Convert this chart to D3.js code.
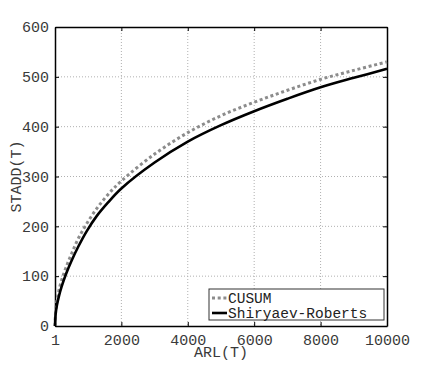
<!DOCTYPE html>
<html>
<head>
<meta charset="utf-8">
<script src="https://cdnjs.cloudflare.com/ajax/libs/d3/7.8.5/d3.min.js"></script>
<style>
  body { margin: 0; background: #fff; }
  text { font-family: "Liberation Mono", "Courier New", monospace; }
</style>
</head>
<body>
<svg width="427" height="365"></svg>
<script>
// values
var arl = [1, 20, 60, 120, 200, 330, 500, 700, 953, 1250, 1600, 2000, 3000, 4000, 5000, 6000, 7000, 8000, 9000, 10000]
var cusum = [0, 30, 52, 72, 92, 117, 145, 175, 205, 235, 264, 291, 345, 388, 422, 449, 473, 495, 513, 530]
var shiryaev = [0, 24, 42, 60, 79, 104, 131, 159, 190, 220, 248, 276, 328, 370, 403, 431, 456, 479, 498, 516]
var xTicks = [1, 2000, 4000, 6000, 8000, 10000]
var yTicks = [0, 100, 200, 300, 400, 500, 600]
var seriesNames = ["CUSUM", "Shiryaev-Roberts"]

var svg = d3.select("svg"),
  plotLeft = 55, plotRight = 387, plotTop = 27, plotBottom = 326

var xScale = d3.scaleLinear().domain([1, 10000]).range([plotLeft, plotRight])
var yScale = d3.scaleLinear().domain([0, 600]).range([plotBottom, plotTop])

var g = svg.append("g")

// grid lines (dotted)
g.selectAll(".vgrid")
  .data(xTicks.slice(1, -1))
  .enter().append("line")
  .attr("x1", function(d) { return xScale(d) })
  .attr("x2", function(d) { return xScale(d) })
  .attr("y1", plotTop).attr("y2", plotBottom)
  .attr("stroke", "#b0b0b0")
  .attr("stroke-width", 1)
  .attr("stroke-dasharray", "1,2")

g.selectAll(".hgrid")
  .data(yTicks.slice(1, -1))
  .enter().append("line")
  .attr("x1", plotLeft).attr("x2", plotRight)
  .attr("y1", function(d) { return yScale(d) })
  .attr("y2", function(d) { return yScale(d) })
  .attr("stroke", "#b0b0b0")
  .attr("stroke-width", 1)
  .attr("stroke-dasharray", "1,2")

// axes with inward ticks, matlab style box
var bottomAxis = d3.axisBottom(xScale).tickValues(xTicks).tickSize(-4).tickSizeOuter(0).tickPadding(8).tickFormat(function(d) { return d })
var leftAxis = d3.axisLeft(yScale).tickValues(yTicks).tickSize(-4).tickSizeOuter(0).tickPadding(6)
var topAxis = d3.axisTop(xScale).tickValues(xTicks).tickSize(-4).tickSizeOuter(0).tickFormat("")
var rightAxis = d3.axisRight(yScale).tickValues(yTicks).tickSize(-4).tickSizeOuter(0).tickFormat("")

function styleAxis(sel) {
  sel.select(".domain").attr("stroke", "#000").attr("stroke-width", 1.5)
  sel.selectAll(".tick line").attr("stroke", "#000").attr("stroke-width", 1)
  sel.selectAll(".tick text").attr("fill", "#3a3a3a").attr("font-size", "15px")
    .attr("font-family", "Liberation Mono, Courier New, monospace")
}

g.append("g").attr("transform", "translate(0," + plotBottom + ")").call(bottomAxis).call(styleAxis)
g.append("g").attr("transform", "translate(" + plotLeft + ",0)").call(leftAxis).call(styleAxis)
g.append("g").attr("transform", "translate(0," + plotTop + ")").call(topAxis).call(styleAxis)
g.append("g").attr("transform", "translate(" + plotRight + ",0)").call(rightAxis).call(styleAxis)

// curves (catmull-rom keeps them smooth through the read points)
var line = d3.line().curve(d3.curveCatmullRom.alpha(0.5))
  .x(function(d) { return xScale(d[0]) })
  .y(function(d) { return yScale(d[1]) })

g.append("path")
  .datum(d3.zip(arl, cusum))
  .attr("d", line)
  .attr("fill", "none")
  .attr("stroke", "#8c8c8c")
  .attr("stroke-width", 3)
  .attr("stroke-dasharray", "3,2.7")

g.append("path")
  .datum(d3.zip(arl, shiryaev))
  .attr("d", line)
  .attr("fill", "none")
  .attr("stroke", "#000")
  .attr("stroke-width", 2.6)

// axis titles
svg.append("text")
  .attr("x", (plotLeft + plotRight) / 2)
  .attr("y", 357)
  .attr("text-anchor", "middle")
  .attr("font-size", "15px")
  .attr("fill", "#3a3a3a")
  .text("ARL(T)")

svg.append("text")
  .attr("transform", "translate(21," + ((plotTop + plotBottom) / 2) + ") rotate(-90)")
  .attr("text-anchor", "middle")
  .attr("font-size", "15px")
  .attr("fill", "#3a3a3a")
  .text("STADD(T)")

// legend
var legend = svg.append("g").attr("transform", "translate(209,289)")
legend.append("rect")
  .attr("width", 175).attr("height", 31)
  .attr("fill", "#fff")
  .attr("stroke", "#333")
  .attr("stroke-width", 1)

var styles = [
  { stroke: "#8c8c8c", width: 3, dash: "3,2.7" },
  { stroke: "#000", width: 2.6, dash: null }
]
seriesNames.forEach(function(name, i) {
  var y = 9 + i * 15
  legend.append("line")
    .attr("x1", 3).attr("x2", 18)
    .attr("y1", y).attr("y2", y)
    .attr("stroke", styles[i].stroke)
    .attr("stroke-width", styles[i].width)
    .attr("stroke-dasharray", styles[i].dash)
  legend.append("text")
    .attr("x", 19)
    .attr("y", y)
    .attr("dy", "0.35em")
    .attr("font-size", "14.5px")
    .attr("fill", "#222")
    .text(name)
})
</script>
</body>
</html>
